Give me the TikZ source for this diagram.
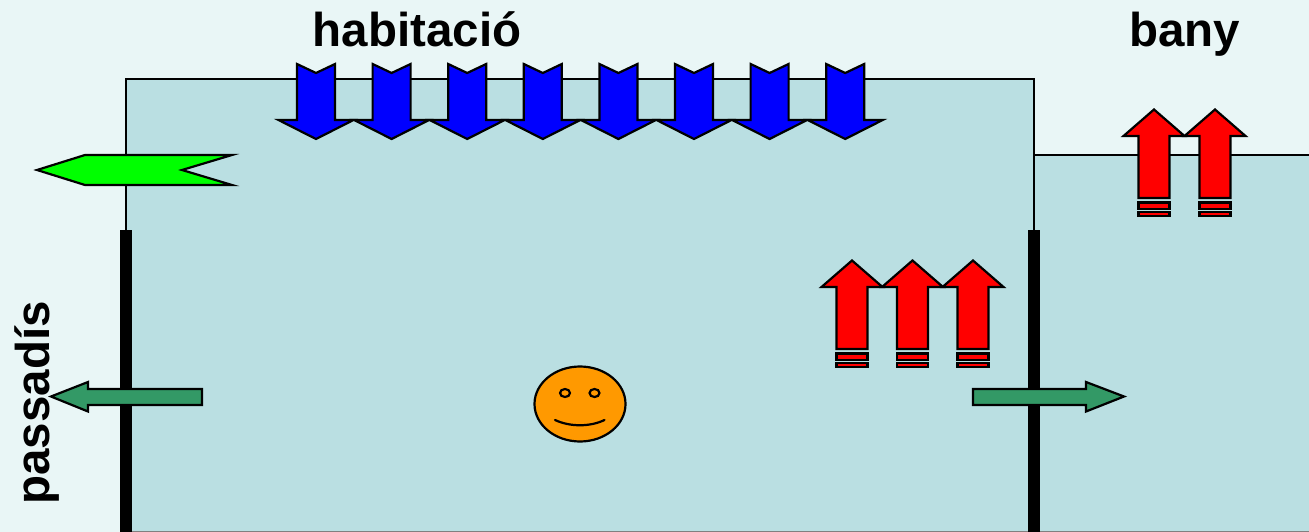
\documentclass[tikz,border=0pt]{standalone}
\usepackage{fontspec}
\setmainfont{Liberation Sans}
\definecolor{skycol}{HTML}{E9F6F6}
\definecolor{roomcol}{HTML}{BADFE2}
\definecolor{seacol}{HTML}{339966}
\definecolor{facecol}{HTML}{FF9900}
\tikzset{
  roomline/.style={line width=1.7pt},
  wallline/.style={line width=12.5pt},
  flow/.style={draw=black,line width=2.2pt,miter limit=10},
  roomlabel/.style={font=\bfseries\fontsize{47.5}{50}\selectfont,anchor=base,inner sep=0pt}
}
\begin{document}
\begin{tikzpicture}[x=1pt,y=-1pt]
  \useasboundingbox (0,0) rectangle (1309,532);
  \fill[skycol] (0,0) rectangle (1309,532);
  % rooms
  \fill[roomcol] (126,79) rectangle (1034,532);
  \fill[roomcol] (1034,155) rectangle (1309,532);
  \draw[roomline] (126,532) -- (126,79) -- (1034,79) -- (1034,532);
  \draw[roomline] (1034,155) -- (1309,155);
  \draw[line width=0.8pt,gray] (126,531.6) -- (1309,531.6);
  \draw[wallline] (126,230) -- (126,532);
  \draw[wallline] (1034,230) -- (1034,532);
  % labels
  \node[roomlabel] (habitacio) at (417,46.5) {habitació};
  \node[roomlabel] (bany) at (1184.5,46.5) {bany};
  \node[roomlabel,rotate=90] (passadis) at (49,403) {passadís};
  % incoming
  \foreach \i in {0,...,7} {
    \begin{scope}[xshift=\i*75.6]
      \draw[flow,fill=blue] (297,64) -- (316,73) -- (335,64) -- (335,120) -- (353.5,120)
        -- (316,139) -- (278.5,120) -- (297,120) -- cycle;
    \end{scope}
  }
  \draw[flow,fill=green] (37,170) -- (85,155) -- (232,155) -- (182,170) -- (232,185) -- (85,185) -- cycle;
  % heat, person and bath
  \foreach \cx/\dy in {852/0,912.5/0,973/0,1154/-151,1215/-151} {
    \begin{scope}[xshift=\cx,yshift=-\dy]
      \draw[flow,fill=red] (0,260.5) -- (30.5,287) -- (15.5,287) -- (15.5,349) -- (-15.5,349)
        -- (-15.5,287) -- (-30.5,287) -- cycle;
      \draw[flow,fill=red] (-15.5,353.5) rectangle (15.5,360);
      \draw[flow,fill=red] (-15.5,363) rectangle (15.5,367);
    \end{scope}
  }
  % outgoing
  \draw[flow,fill=seacol] (51,396.5) -- (88,382) -- (88,389) -- (202,389) -- (202,405)
    -- (88,405) -- (88,411.5) -- cycle;
  \draw[flow,fill=seacol] (1124,396.5) -- (1086,382) -- (1086,389) -- (973,389) -- (973,405)
    -- (1086,405) -- (1086,411.5) -- cycle;
  % face
  \draw[flow,fill=facecol] (580,404) ellipse [x radius=45.5,y radius=37.5];
  \draw[flow] (565,393) ellipse [x radius=5,y radius=4];
  \draw[flow] (594.5,393) ellipse [x radius=5,y radius=4];
  \draw[flow,line cap=round] (555,420) .. controls (570,427) and (590,427) .. (604.5,420);
\end{tikzpicture}
\end{document}
